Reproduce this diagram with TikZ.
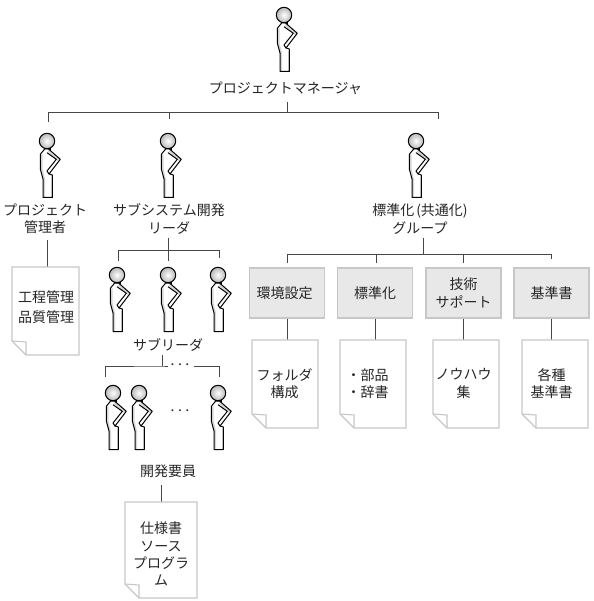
\documentclass[tikz,border=0pt]{standalone}
\usepackage{fontspec}
\setmainfont{Noto Sans CJK JP}
\tikzset{
  x=1pt,y=-1pt,
  lbl/.style={font=\fontsize{14}{17.2}\selectfont,align=center,inner sep=0pt,text=black!85},
  dotted label/.style={font=\fontsize{7.4}{9}\selectfont\bfseries,inner sep=0pt,text=black!80},
  wire/.style={draw=black!72,line width=0.95pt},
  graybox/.style={draw=black!22,line width=1.2pt,fill=black!9,minimum width=75pt,minimum height=50pt,inner sep=0pt,font=\fontsize{14}{18}\selectfont,align=center,text=black!85},
  person/.pic={
    \fill[black] (-3.5,6) rectangle (3.5,10);
    \fill[white] (-2.3,8) -- (-6.7,13.3) -- (-6.7,28) -- (-4,38) -- (-4,56.5) -- (5.3,56.5) -- (5.3,34) -- (2,33) -- (13.3,18.3) -- (1.5,8) -- cycle;
    \fill[black!16] (-6.5,14) -- (-4.4,13) -- (-4.4,28) -- (-2,38) -- (-2,56) -- (-3.7,56) -- (-3.7,38) -- (-6.5,28) -- cycle;
    \fill[black!16] (3.8,36) rectangle (5,56);
    \fill[black!16] (1.5,9) -- (12.8,18.3) -- (11,20) -- (1,11) -- cycle;
    \draw[black,line width=1pt,line join=round]
      (-2.3,8) -- (-6.7,13.3) -- (-6.7,28) -- (-4,38) -- (-4,56.5) -- (5.3,56.5) -- (5.3,34) -- (2,33) -- (13.3,18.3) -- (1.5,8) -- cycle;
    \draw[black,line width=1pt,line join=round] (0,11.7) -- (9.3,18.3) -- (0,30) -- (2,33);
    \draw[black,line width=1pt,shading=radial,inner color=white,outer color=black!28] (0,0) circle (7.7);
  },
}
\newcommand{\docshape}[5]{% colour x1 y1 x2 y2
  \path[draw=#1,fill=white,line width=1.1pt,line join=miter]
   (#2,#3) -- (#4,#3) -- (#4,#5) -- ({#2+14},#5) -- (#2,{#5-14}) -- cycle;
  \draw[#1,line width=1.1pt] (#2,{#5-14}) -- ({#2+14},{#5-13}) -- ({#2+14},#5);
}
\begin{document}
\begin{tikzpicture}
\useasboundingbox (0,0) rectangle (593,601);
% people
\foreach \x/\y in {284/15,47/141,168/141,416/141,
  117/275,168/275,218/275,113/393,139/393,218/393}
  \pic at (\x,\y) {person};
% labels
\node[lbl] (pm) at (285.5,88) {プロジェクトマネージャ};
\node[lbl] (pk) at (45,219) {プロジェクト\\管理者};
\node[lbl] (ss) at (169,219) {サブシステム開発\\リーダ};
\node[lbl] (sg) at (420,219) {標準化\hspace{2pt}(共通化)\hspace{1pt}\\グループ};
\node[lbl] (sl) at (168,345) {サブリーダ};
\node[lbl] (dv) at (168,471) {開発要員};
\node[dotted label] (dots1) at (180,366) {・・・};
\node[dotted label] (dots2) at (180,412) {・・・};
% top tree
\coordinate (t0) at (287,102);\coordinate (t1) at (287,112);
\draw[wire] (t0) -- (t1);
\coordinate (ta) at (48,122);\coordinate (tb) at (169,119);\coordinate (tc) at (438,119);
\draw[wire] (ta) |- (tc |- t1) -- (tc);
\draw[wire] (tb) -- (tb |- t1);
% group tree
\coordinate (g0) at (423,238);\coordinate (g1) at (423,254);
\draw[wire] (g0) -- (g1);
\coordinate (ga) at (287,263);\coordinate (gb) at (376,263);\coordinate (gc) at (463.5,263);\coordinate (gd) at (551,259);
\draw[wire] (ga) |- (gd |- g1) -- (gd);
\draw[wire] (gb) -- (gb |- g1);
\draw[wire] (gc) -- (gc |- g1);
% sub tree
\coordinate (sa) at (168,238);\coordinate (sb) at (168,261);
\draw[wire] (sa) -- (sb);
\draw[wire] (118,261) |- (219,250) -- (219,258);
% sub leader tree
\coordinate (l0) at (162,355);\coordinate (l1) at (162,366);
\draw[wire] (l0) -- (l1);
\draw[wire] (105,377) |- (l1) -- (168,366);
\draw[wire] (194,366) -- (219,366) -- (219,377);
% boxes
\node[graybox] (b1) at (287,293) {\hspace{-5pt}環境設定};
\node[graybox] (b2) at (375,293) {標準化};
\node[graybox] (b3) at (463.5,293) {技術\\サポート};
\node[graybox] (b4) at (551.5,293) {基準書};
\draw[wire] (b1.south) -- (287,340);
\draw[wire] (b2.south) -- (375,340);
\draw[wire] (b3.south) -- (463.5,340);
\draw[wire] (b4.south) -- (551.5,340);
\draw[wire] (47.7,240) -- (47.7,267);
\draw[wire] (161,485) -- (161,502);
% documents
\docshape{black!22}{12}{267}{79}{355}
\docshape{black!22}{252}{340}{318}{428}
\docshape{black!22}{340}{340}{406}{428}
\docshape{black!22}{433}{340}{499}{428}
\docshape{black!22}{522}{340}{588}{428}
\docshape{black!22}{125}{502}{197}{598}
\node[lbl,font=\fontsize{14}{19.8}\selectfont] (t1a) at (46,307) {工程管理\\品質管理};
\node[lbl] (t2a) at (284.5,383.5) {フォルダ\\構成};
\node[lbl] (t3a) at (367.5,383.5) {・部品\\・辞書};
\node[lbl] (t4a) at (463.5,383.5) {ノウハウ\\集};
\node[lbl] (t5a) at (551.5,383.5) {各種\\基準書};
\node[lbl] (t6a) at (161,554) {仕様書\\ソース\\プログラ\\ム};
\end{tikzpicture}
\end{document}
